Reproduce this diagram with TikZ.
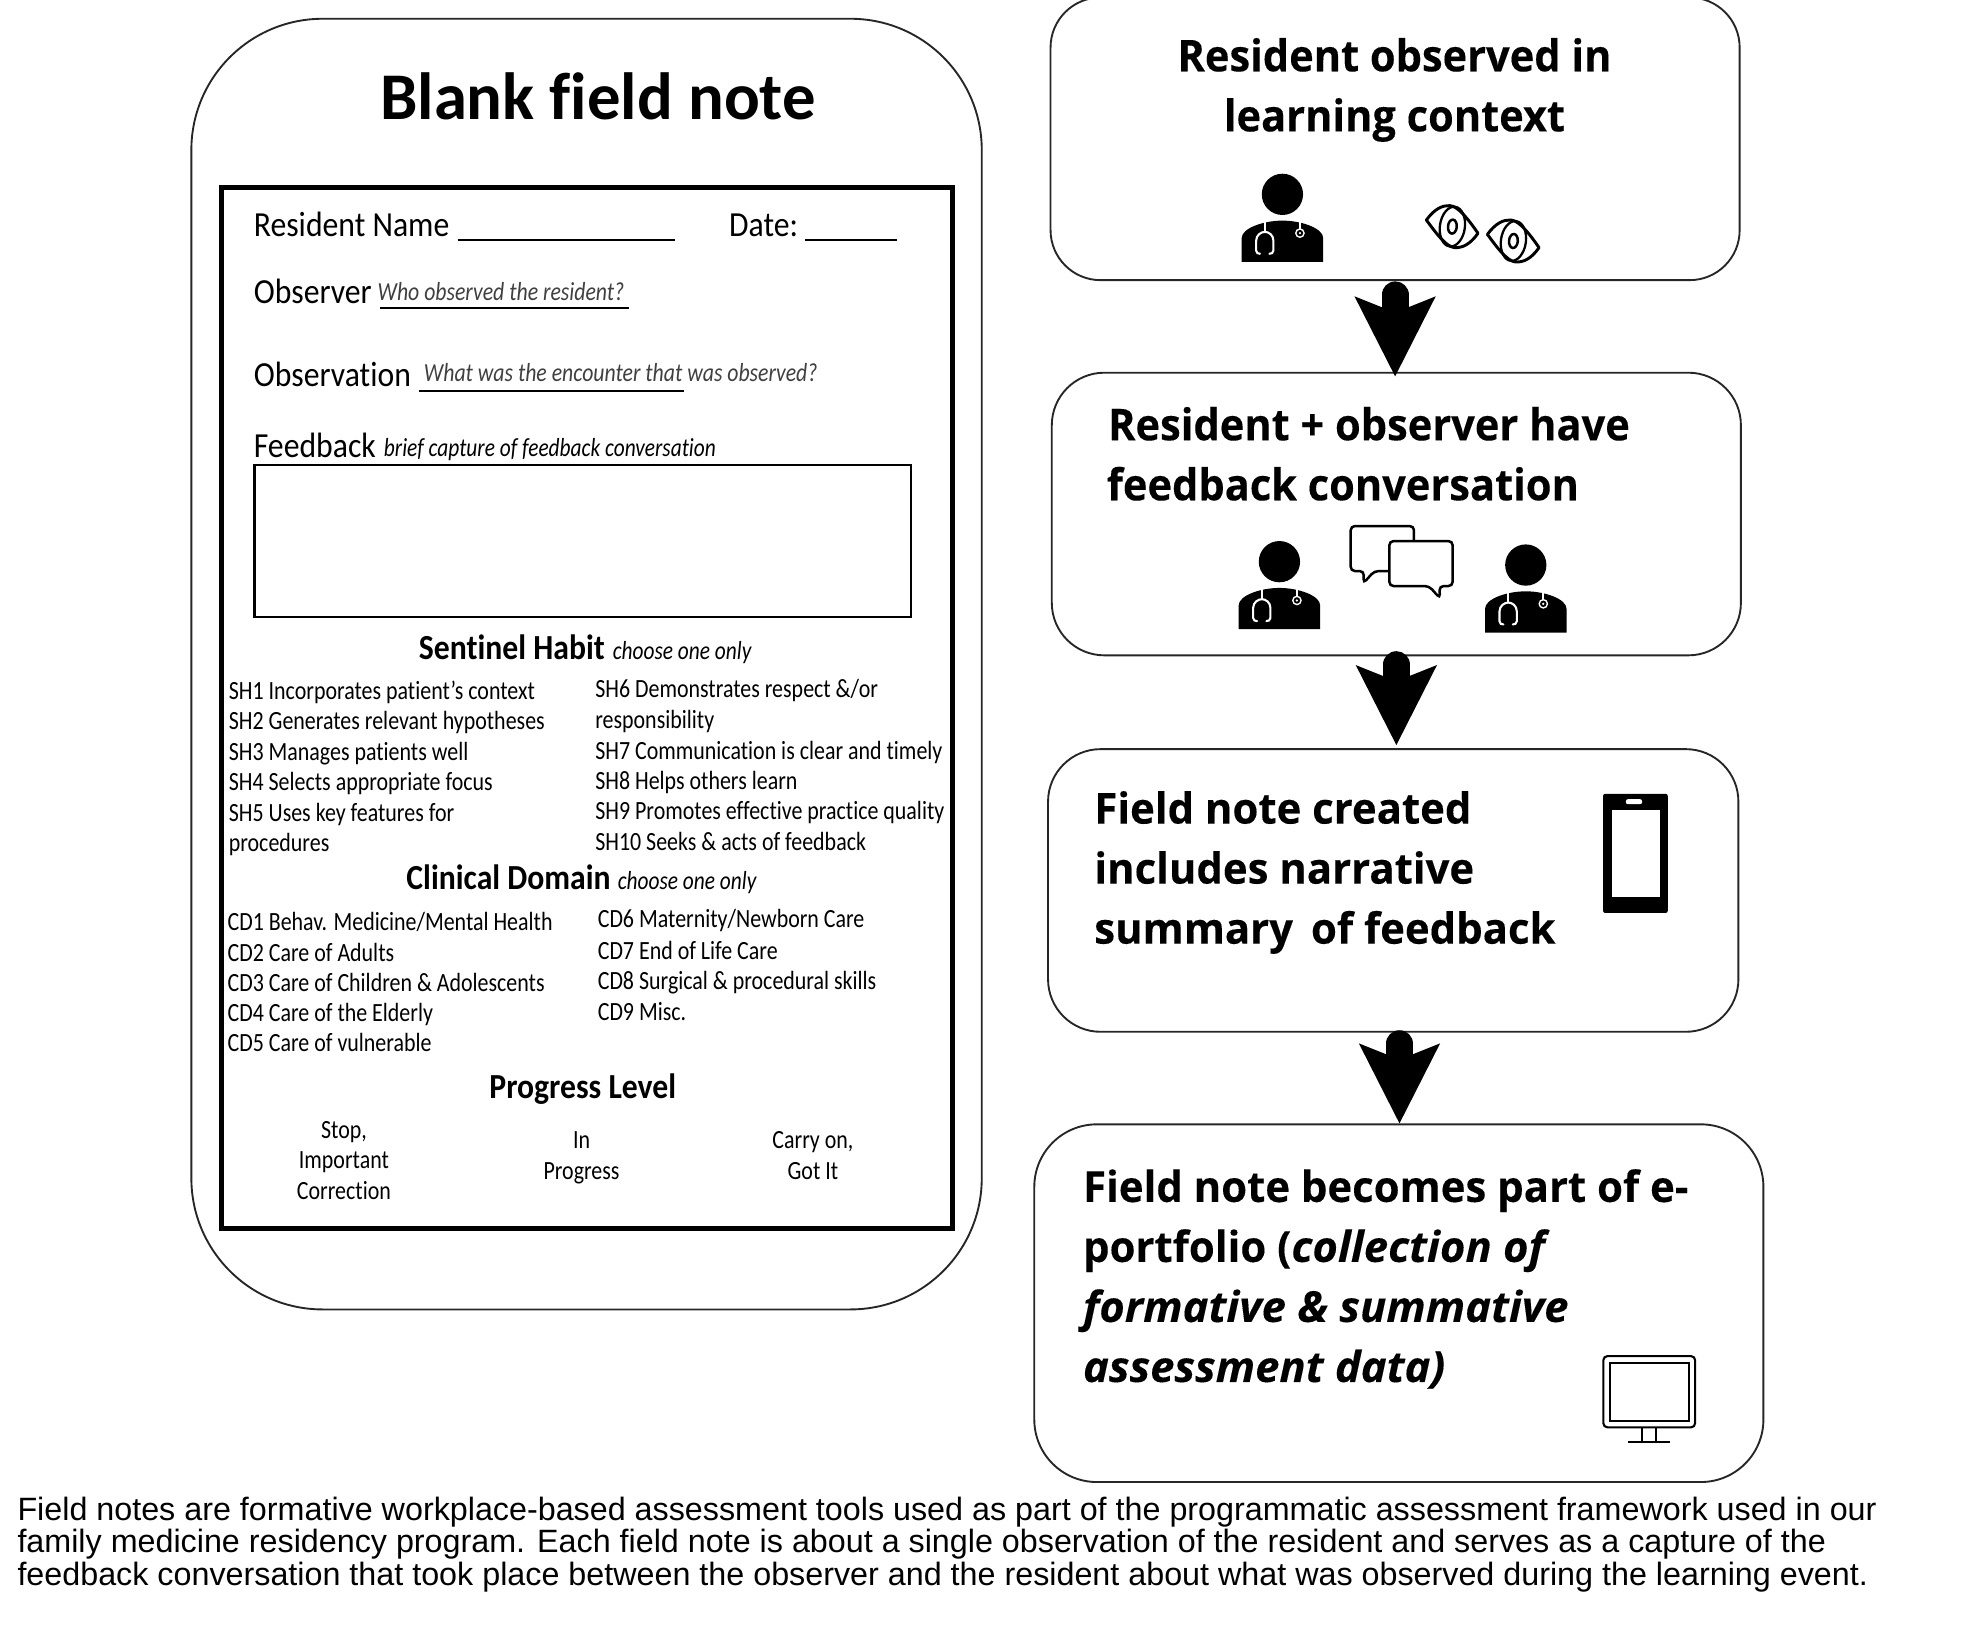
\documentclass[tikz,border=0pt]{standalone}
\usepackage{fontspec}
\usetikzlibrary{arrows.meta}
\setmainfont{Liberation Sans}
\newfontfamily\titlefont[Ligatures=NoCommon]{Carlito}
\newfontfamily\formfont[FakeStretch=0.9,Ligatures=NoCommon]{Carlito}
\newfontfamily\itemfont[FakeStretch=0.835,Ligatures=NoCommon]{Carlito}
\newfontfamily\hintfont[FakeStretch=0.82,Ligatures=NoCommon]{Carlito}
\newfontfamily\flowfont[FakeStretch=0.95,BoldFeatures={FakeBold=0.2}]{Open Sans}
\newfontfamily\wideflow[FakeStretch=0.98,BoldFeatures={FakeBold=0.2},BoldItalicFeatures={FakeStretch=1.02,FakeBold=0.2}]{Open Sans}
\newdimen\uu \uu=0.6pt
\tikzset{
  lbl/.style={inner sep=0pt,outer sep=0pt,anchor=base west},
  ctr/.style={inner sep=0pt,outer sep=0pt,anchor=base},
  title/.style={lbl,font=\titlefont\bfseries\fontsize{32}{36}\selectfont},
  fbig/.style={lbl,font=\formfont\fontsize{16.9}{20}\selectfont},
  fhint/.style={lbl,text=black!75,font=\itemfont\itshape\fontsize{12.5}{15}\selectfont},
  fhead/.style={lbl,font=\formfont\bfseries\fontsize{16.9}{20}\selectfont},
  fchoose/.style={lbl,font=\hintfont\itshape\fontsize{12.5}{15}\selectfont},
  fitem/.style={lbl,font=\itemfont\fontsize{12.6}{15}\selectfont},
  fctr/.style={ctr,font=\itemfont\fontsize{12.6}{15}\selectfont},
  flow/.style={lbl,font=\flowfont\bfseries\fontsize{21}{25}\selectfont},
  wflow/.style={lbl,font=\wideflow\bfseries\fontsize{20.5}{25}\selectfont},
  stepbox/.style={draw=black!85,line width=0.9pt,fill=white,inner sep=0pt},
  ulin/.style={line width=1pt,black},
  conn/.style={line width=12.9pt,line cap=round,
    -{Stealth[length=38.4pt,width=39pt,inset=7.8pt,line width=0pt]}},
  doctor/.pic={
    \fill[black] (0,0) circle[radius=16.5];
    \fill[black] (-32.6,54) -- (-32.6,35) .. controls (-32.6,27) and (-15,21) .. (0,21)
       .. controls (15,21) and (32.6,27) .. (32.6,35) -- (32.6,54) -- cycle;
    \draw[white,line width=1pt,line cap=round] (-17.9,47.5) -- (-20,47) -- (-21,45) -- (-21,37)
       .. controls (-21,32.5) and (-17,30) .. (-14,30) .. controls (-11,30) and (-7.2,32.5) .. (-7.2,37)
       -- (-7.2,45) -- (-8.3,47) -- (-10.4,47.5);
    \draw[white,line width=1pt] (-14.2,20.5) -- (-14.2,30);
    \draw[white,line width=1pt] (14,20.5) -- (14,28);
    \fill[white] (14,31) circle[radius=3.9];
    \fill[black] (14,31) circle[radius=2.6];
    \fill[white] (14,31) circle[radius=1];
  },
  eye/.pic={
    \draw[line width=1.4pt,line join=round] (-20.8,-5.3) .. controls (-14,-14.5) and (-8,-17) .. (-2.1,-16.8)
       .. controls (5,-16.5) and (14,-4) .. (20.5,5.3) .. controls (14,14.5) and (8,17) .. (1.9,16.8)
       .. controls (-5,16.5) and (-14,4) .. (-20.8,-5.3) -- cycle;
    \draw[line width=1.1pt,rotate=-8] (0,0) ellipse[x radius=10,y radius=16];
    \draw[line width=1.2pt,rotate=-5] (0,0) ellipse[x radius=3.5,y radius=5.6];
  }
}
\begin{document}
\begin{tikzpicture}[x=0.6pt,y=-0.6pt]
\useasboundingbox (0,0) rectangle (1568,1301.7);
% left card
\node[stepbox,rounded corners=105\uu,minimum width=632\uu,minimum height=1032\uu] (card) at (469,531) {};
\node[title] (ttl) at (304,95.5) {Blank field note};
\node[draw=black,line width=2.4pt,minimum width=584\uu,minimum height=832\uu,inner sep=0pt] (form) at (469.5,566) {};
\node[fbig] (rn) at (203,189) {Resident Name};
\draw[ulin] (366,192) -- (540,192);
\node[fbig] (dt) at (583,189) {Date:};
\draw[ulin] (644,192) -- (717,192);
\node[fbig] (ob) at (203,243) {Observer};
\node[fhint] (obh) at (302,240) {Who observed the resident?};
\draw[ulin] (304,246.5) -- (503,246.5);
\node[fbig] (on) at (203,309) {Observation};
\node[fhint] (onh) at (339,305) {What was the encounter that was observed?};
\draw[ulin] (335,313) -- (547,313);
\node[fbig] (fb) at (203,366) {Feedback};
\node[fchoose] (fbh) at (307,365) {brief capture of feedback conversation};
\node[draw=black,line width=1pt,minimum width=525\uu,minimum height=121\uu,inner sep=0pt] (fbox) at (466,432.5) {};
\node[fhead] (sh) at (335,527) {Sentinel Habit};
\node[fchoose] (shc) at (490,527) {choose one only};
\node[fitem] (s1) at (183,559) {SH1 Incorporates patient’s context};
\node[fitem] (s2) at (183,583.5) {SH2 Generates relevant hypotheses};
\node[fitem] (s3) at (183,608) {SH3 Manages patients well};
\node[fitem] (s4) at (183,632) {SH4 Selects appropriate focus};
\node[fitem] (s5) at (183,656.5) {SH5 Uses key features for};
\node[fitem] (s5b) at (183,681) {procedures};
\node[fitem] (s6) at (476,558) {SH6 Demonstrates respect \&/or};
\node[fitem] (s6b) at (476,582.5) {responsibility};
\node[fitem] (s7) at (476,607) {SH7 Communication is clear and timely};
\node[fitem] (s8) at (476,631) {SH8 Helps others learn};
\node[fitem] (s9) at (476,655.5) {SH9 Promotes effective practice quality};
\node[fitem] (s10) at (476,680) {SH10 Seeks \& acts of feedback};
\node[fhead] (cd) at (325,711) {Clinical Domain};
\node[fchoose] (cdc) at (494,711) {choose one only};
\node[fitem] (c1) at (182,744) {CD1 Behav. Medicine/Mental Health};
\node[fitem] (c2) at (182,768.5) {CD2 Care of Adults};
\node[fitem] (c3) at (182,793) {CD3 Care of Children \& Adolescents};
\node[fitem] (c4) at (182,817) {CD4 Care of the Elderly};
\node[fitem] (c5) at (182,841) {CD5 Care of vulnerable};
\node[fitem] (c6) at (478,742) {CD6 Maternity/Newborn Care};
\node[fitem] (c7) at (478,767) {CD7 End of Life Care};
\node[fitem] (c8) at (478,791) {CD8 Surgical \& procedural skills};
\node[fitem] (c9) at (478,816) {CD9 Misc.};
\node[fhead,anchor=base] (pl) at (466,878) {Progress Level};
\node[fctr] (p1a) at (275,910) {Stop,};
\node[fctr] (p1b) at (275,934.5) {Important};
\node[fctr] (p1c) at (275,959) {Correction};
\node[fctr] (p2a) at (465,918.5) {In};
\node[fctr] (p2b) at (465,943.5) {Progress};
\node[fctr] (p3a) at (650,918.5) {Carry on,};
\node[fctr] (p3b) at (650,943.5) {Got It};
% right boxes
\node[stepbox,rounded corners=40\uu,minimum width=551\uu,minimum height=226\uu] (b1) at (1115.5,111) {};
\node[stepbox,rounded corners=42\uu,minimum width=551\uu,minimum height=226\uu] (b2) at (1116.5,411) {};
\node[stepbox,rounded corners=42\uu,minimum width=552\uu,minimum height=226\uu] (b3) at (1114,712) {};
\node[stepbox,rounded corners=50\uu,minimum width=583\uu,minimum height=286\uu] (b4) at (1118.5,1042) {};
% connectors
\draw[conn,shorten <=6.6pt,shorten >=-2.2pt] (b1.south) -- (b1.south |- b2.north);
\draw[conn,shorten <=4pt,shorten >=1.5pt] (b2.south) -- (b2.south |- b3.north);
\draw[conn,shorten <=5.25pt] (b3.south) ++(5,0) coordinate (a3) -- (a3 |- b4.north);
% box text
\node[flow,anchor=base] (t1a) at (1115,57) {Resident observed in};
\node[flow,anchor=base] (t1b) at (1115,105) {learning context};
\node[flow] (t2a) at (886,352) {Resident + observer have};
\node[flow] (t2b) at (885,400) {feedback conversation};
\node[wflow] (t3a) at (875,658.5) {Field note created};
\node[wflow] (t3b) at (875,706.5) {includes narrative};
\node[wflow] (t3c) at (875,754.5) {summary\, of feedback};
\node[wflow] (t4a) at (866,961) {Field note becomes part of e-};
\node[wflow] (t4b) at (866,1009) {portfolio (\textit{collection of}};
\node[wflow,font=\wideflow\bfseries\itshape\fontsize{20.5}{25}\selectfont] (t4c) at (866,1057) {formative \& summative};
\node[wflow,font=\wideflow\bfseries\itshape\fontsize{20.5}{25}\selectfont] (t4d) at (866,1105) {assessment data)};
% icons
\pic at (1025.4,155.4) {doctor};
\pic at (1023,449.1) {doctor};
\pic at (1220,451.8) {doctor};
\pic at (1161.3,181.2) {eye};
\pic at (1210.1,192.7) {eye};
% chat bubbles
\draw[line width=1.2pt,rounded corners=2pt,fill=white] (1080,420.6) -- (1130.6,420.6) -- (1130.6,456.6) -- (1098.9,456.6) -- (1090.1,466.4) -- (1090.6,456.6) -- (1080,456.6) -- cycle;
\draw[line width=1.2pt,rounded corners=2pt,fill=white] (1110.9,432.6) -- (1161.5,432.6) -- (1161.5,468.6) -- (1150.9,468.6) -- (1151.4,478.4) -- (1142.6,468.6) -- (1110.9,468.6) -- cycle;
% phone
\fill[black,rounded corners=1pt] (1281.8,634.7) rectangle (1333.5,730);
\fill[white] (1288.6,647.4) rectangle (1327.4,717.3);
\fill[white,rounded corners=1pt] (1300,639) rectangle (1313,643);
% monitor
\draw[line width=1pt,rounded corners=2pt] (1282,1084.3) rectangle (1355.4,1141.3);
\draw[line width=1pt] (1287,1089.6) rectangle (1350.8,1136);
\draw[line width=1pt] (1312.7,1141.3) -- (1312.7,1152.8) (1324.2,1141.3) -- (1324.2,1152.8) (1302,1152.8) -- (1335.4,1152.8);
% caption
\node[lbl,anchor=north west,align=left,font=\fontsize{15.49}{15.6}\selectfont] (cap) at (14,1197) {Field notes are formative workplace-based assessment tools used as part of the programmatic assessment framework used in our\\family medicine residency program. Each field note is about a single observation of the resident and serves as a capture of the\\feedback conversation that took place between the observer and the resident about what was observed during the learning event.};
\end{tikzpicture}
\end{document}
